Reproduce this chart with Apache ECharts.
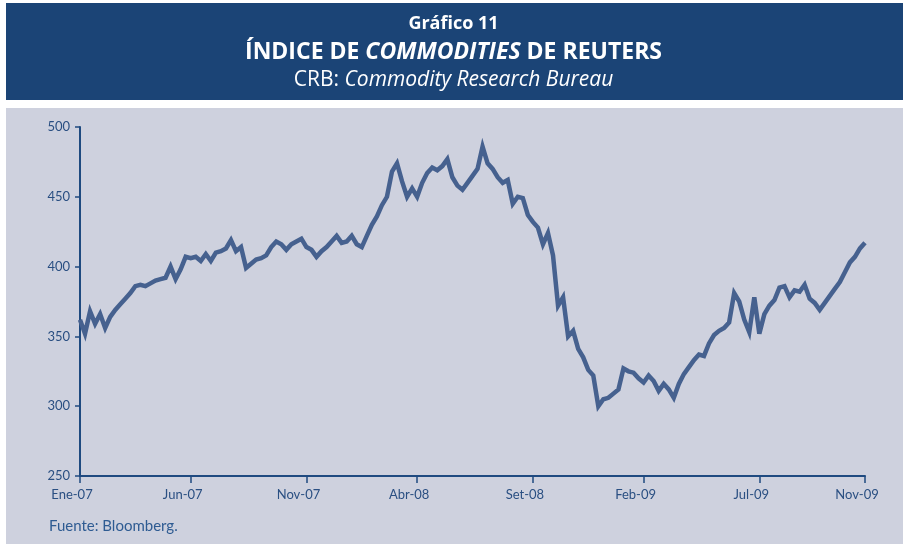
<!DOCTYPE html>
<html>
<head>
<meta charset="utf-8">
<title>Índice de commodities de Reuters</title>
<script src="https://cdn.jsdelivr.net/npm/echarts@6/dist/echarts.min.js"></script>
<style>
  html, body { margin: 0; padding: 0; background: #ffffff; }
  #chart { width: 907px; height: 544px; }
</style>
</head>
<body>
<div id="chart"></div>
<script>
// --- datos (lectura aproximada del gráfico, ~semanal) ---
var crbValues = [
  362, 352, 368, 359, 366, 356, 364, 369, 373, 377,
  381, 386, 387, 386, 388, 390, 391, 392, 400, 391,
  398, 407, 406, 407, 404, 409, 404, 410, 411, 413,
  419, 411, 414, 399, 402, 405, 406, 408, 414, 418,
  416, 412, 416, 418, 420, 414, 412, 407, 411, 414,
  418, 422, 417, 418, 422, 416, 414, 422, 430, 436,
  444, 450, 468, 474, 461, 450, 456, 450, 460, 467,
  471, 469, 472, 477, 464, 458, 455, 460, 465, 470,
  486, 474, 470, 464, 460, 462, 445, 450, 449, 437,
  432, 428, 416, 424, 408, 372, 378, 350, 354, 341,
  335, 326, 322, 300, 305, 306, 309, 312, 327, 325,
  324, 320, 317, 322, 318, 311, 316, 312, 306, 316,
  323, 328, 333, 337, 336, 345, 351, 354, 356, 360,
  381, 375, 362, 353, 378, 352, 366, 372, 376, 385,
  386, 378, 383, 382, 387, 377, 374, 369, 374, 379,
  384, 389, 396, 403, 407, 413, 417
];
// etiquetas del eje X y posición (índice) donde va cada una
var xLabels = ['Ene-07', 'Jun-07', 'Nov-07', 'Abr-08', 'Set-08', 'Feb-09', 'Jul-09', 'Nov-09'];
var xLabelIdx = [0, 22, 45, 67, 90, 112, 135, 156];
var yTicks = [250, 300, 350, 400, 450, 500];

// categorías: etiqueta en los índices marcados, vacío en el resto
var categories = crbValues.map(function (v, i) {
  var k = xLabelIdx.indexOf(i);
  return k >= 0 ? xLabels[k] : '' + i;
});
function isTick(idx) { return xLabelIdx.indexOf(idx) >= 0; }

var axisColor = '#1F4A80';
var textColor = '#2A4F82';
var titleFont = 'Open Sans';

var myChart = echarts.init(document.getElementById('chart'), null, { renderer: 'canvas' });

var option = {
  animation: false,
  backgroundColor: '#ffffff',
  graphic: [
    { type: 'rect', z: -10, shape: { x: 6, y: 3, width: 897, height: 97 }, style: { fill: '#1B4476' } },
    { type: 'rect', z: -10, shape: { x: 6, y: 108, width: 897, height: 436 }, style: { fill: '#CED1DE' } }
  ],
  title: [
    {
      text: 'Gráfico 11',
      left: 'center', top: 10,
      textStyle: { color: '#ffffff', fontFamily: titleFont, fontWeight: 'bold', fontSize: 18 }
    },
    {
      text: '{b|ÍNDICE DE }{bi|COMMODITIES}{b| DE REUTERS}',
      left: 'center', top: 36,
      textStyle: {
        rich: {
          b: { color: '#ffffff', fontFamily: titleFont, fontWeight: 'bold', fontSize: 23 },
          bi: { color: '#ffffff', fontFamily: titleFont, fontWeight: 'bold', fontStyle: 'italic', fontSize: 23 }
        }
      }
    },
    {
      text: '{r|CRB: }{i|Commodity Research Bureau}',
      left: 'center', top: 65,
      textStyle: {
        fontWeight: 'normal',
        rich: {
          r: { color: '#ffffff', fontFamily: titleFont, fontWeight: 'normal', fontSize: 21 },
          i: { color: '#ffffff', fontFamily: titleFont, fontWeight: 'normal', fontStyle: 'italic', fontSize: 21 }
        }
      }
    },
    {
      text: 'Fuente: Bloomberg.',
      left: 44, top: 514,
      textStyle: { color: '#2E5B92', fontFamily: 'Lato', fontWeight: 'normal', fontSize: 15 }
    }
  ],
  grid: { left: 80, right: 42, top: 127, bottom: 68 },
  xAxis: {
    type: 'category',
    data: categories,
    boundaryGap: false,
    axisLine: { lineStyle: { color: axisColor, width: 2 } },
    axisTick: {
      interval: function (idx) { return isTick(idx); },
      length: 7,
      lineStyle: { color: axisColor, width: 1.5 }
    },
    axisLabel: {
      interval: function (idx) { return isTick(idx); },
      color: textColor, fontFamily: 'Lato', fontSize: 13, margin: 12,
      padding: [0, 16, 0, 0]
    },
    splitLine: { show: false }
  },
  yAxis: {
    type: 'value',
    min: yTicks[0],
    max: yTicks[yTicks.length - 1],
    interval: 50,
    axisLine: { show: true, lineStyle: { color: axisColor, width: 2 } },
    axisTick: { show: true, length: 5, lineStyle: { color: axisColor, width: 1.5 } },
    axisLabel: { color: textColor, fontFamily: 'Lato', fontSize: 13, margin: 10 },
    splitLine: { show: false }
  },
  series: [{
    name: 'CRB',
    type: 'line',
    data: crbValues,
    symbol: 'none',
    smooth: false,
    lineStyle: { color: '#46618F', width: 4.5, join: 'miter', miterLimit: 4 }
  }]
};

myChart.setOption(option);
</script>
</body>
</html>
